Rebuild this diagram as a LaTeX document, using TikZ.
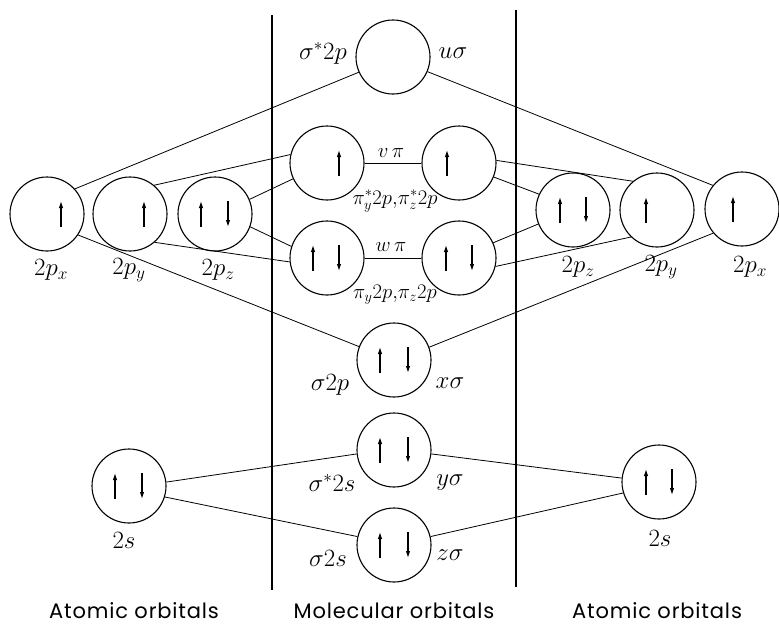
\documentclass[tikz,border=0pt]{standalone}
\usepackage{fontspec}
\newfontfamily\capfont[LetterSpace=4]{Poppins}
\usetikzlibrary{arrows.meta}
\tikzset{
  orb/.style={circle,draw,line width=1.1pt,minimum size=74pt,inner sep=0pt},
  con/.style={line width=0.8pt},
  divider/.style={line width=1.8pt},
  spin/.style={line width=1.1pt,-{Latex[length=7pt,width=4.5pt]}},
  lab/.style={font=\fontsize{23}{26}\selectfont,inner sep=0pt},
  slab/.style={font=\fontsize{20}{22}\selectfont,inner sep=0pt},
  plab/.style={font=\fontsize{21}{23}\selectfont,inner sep=0pt},
  captext/.style={font=\capfont\fontsize{21}{24}\selectfont,inner sep=0pt}
}
\newcommand\eup[2]{\draw[spin] ([shift={(#2,13)}]#1.center) -- ([shift={(#2,-13)}]#1.center);}
\newcommand\edn[2]{\draw[spin] ([shift={(#2,-13)}]#1.center) -- ([shift={(#2,13)}]#1.center);}
\begin{document}
\begin{tikzpicture}[x=1pt,y=-1pt]
\useasboundingbox (0,0) rectangle (779,627);
% dividers
\coordinate (d1t) at (272,15); \coordinate (d1b) at (272,590);
\coordinate (d2t) at (516,10); \coordinate (d2b) at (516,587);
\draw[divider] (d1t) -- (d1b);
\draw[divider] (d2t) -- (d2b);
% atomic orbitals left
\node[orb] (Lpx) at (47,214) {};
\node[orb] (Lpy) at (130,214) {};
\node[orb] (Lpz) at (215,214) {};
\node[orb] (Ls) at (129,486) {};
% atomic orbitals right
\node[orb] (Rpz) at (573,210) {};
\node[orb] (Rpy) at (657,210) {};
\node[orb] (Rpx) at (742,209) {};
\node[orb] (Rs) at (659,482) {};
% molecular orbitals
\node[orb] (SSp) at (393,57) {};
\node[orb] (PSL) at (327,163) {};
\node[orb] (PSR) at (459,163) {};
\node[orb] (PL) at (327,258) {};
\node[orb] (PR) at (459,258) {};
\node[orb] (Sp) at (394,360) {};
\node[orb] (SSs) at (394,450) {};
\node[orb] (Ss) at (394,545) {};
% electrons
\eup{Lpx}{14}
\eup{Lpy}{14}
\eup{Lpz}{-14} \edn{Lpz}{13}
\eup{Ls}{-14} \edn{Ls}{13}
\eup{Rpz}{-13} \edn{Rpz}{13}
\eup{Rpy}{-11}
\eup{Rpx}{-9}
\eup{Rs}{-13} \edn{Rs}{13}
\eup{PSL}{12}
\eup{PSR}{-12}
\eup{PL}{-14} \edn{PL}{12}
\eup{PR}{-13} \edn{PR}{13}
\eup{Sp}{-14} \edn{Sp}{14}
\eup{SSs}{-14} \edn{SSs}{14}
\eup{Ss}{-14} \edn{Ss}{14}
% connectors
\draw[con] (Lpx.42) -- (SSp.204);
\draw[con] (Lpx.-34) -- (Sp.159);
\draw[con] (Lpy.50) -- (PSL.167);
\draw[con] (Lpy.-49) -- (PL.186);
\draw[con] (Lpz.23) -- (PSL.205);
\draw[con] (Lpz.-20) -- (PL.162);
\draw[con] (PSL.east) -- (PSR.west);
\draw[con] (PL.east) -- (PR.west);
\draw[con] (PSR.4) -- (Rpy.130);
\draw[con] (PSR.-22) -- (Rpz.155);
\draw[con] (PR.24) -- (Rpz.202);
\draw[con] (PR.-13) -- (Rpy.226);
\draw[con] (SSp.-23) -- (Rpx.141);
\draw[con] (Sp.20) -- (Rpx.220);
\draw[con] (Ls.6) -- (SSs.186);
\draw[con] (Ls.-17) -- (Ss.167);
\draw[con] (SSs.-6) -- (Rs.174);
\draw[con] (Ss.13) -- (Rs.197);
% labels
\node[lab] (tLpx) at (51,270) {$2p_x$};
\node[lab] (tLpy) at (129,270) {$2p_y$};
\node[lab] (tLpz) at (218,270) {$2p_z$};
\node[lab] (tRpz) at (578,267) {$2p_z$};
\node[lab] (tRpy) at (661,267) {$2p_y$};
\node[lab] (tRpx) at (750,267) {$2p_x$};
\node[lab] (tLs) at (124,540) {$2s$};
\node[lab] (tRs) at (660,538) {$2s$};
\node[lab] (tSSp) at (323,53) {$\sigma^{*}2p$};
\node[lab] (tu) at (453,53) {$u\sigma$};
\node[slab] (tv) at (391,153) {$v\,\pi$};
\node[plab] (tPS) at (395,201) {$\pi^{*}_{y}2p{,}\pi^{*}_{z}2p$};
\node[slab] (tw) at (391,247) {$w\,\pi$};
\node[plab] (tP) at (395,295) {$\pi_{y}2p{,}\pi_{z}2p$};
\node[lab] (tSp) at (330,385) {$\sigma 2p$};
\node[lab] (tx) at (450,383) {$x\sigma$};
\node[lab] (tSSs) at (332,483) {$\sigma^{*}2s$};
\node[lab] (ty) at (450,483) {$y\sigma$};
\node[lab] (tSs) at (328,558) {$\sigma 2s$};
\node[lab] (tz) at (450,555) {$z\sigma$};
\node[captext] (c1) at (134,611) {Atomic orbitals};
\node[captext] (c2) at (394,611) {Molecular orbitals};
\node[captext] (c3) at (657,611) {Atomic orbitals};
\end{tikzpicture}
\end{document}
